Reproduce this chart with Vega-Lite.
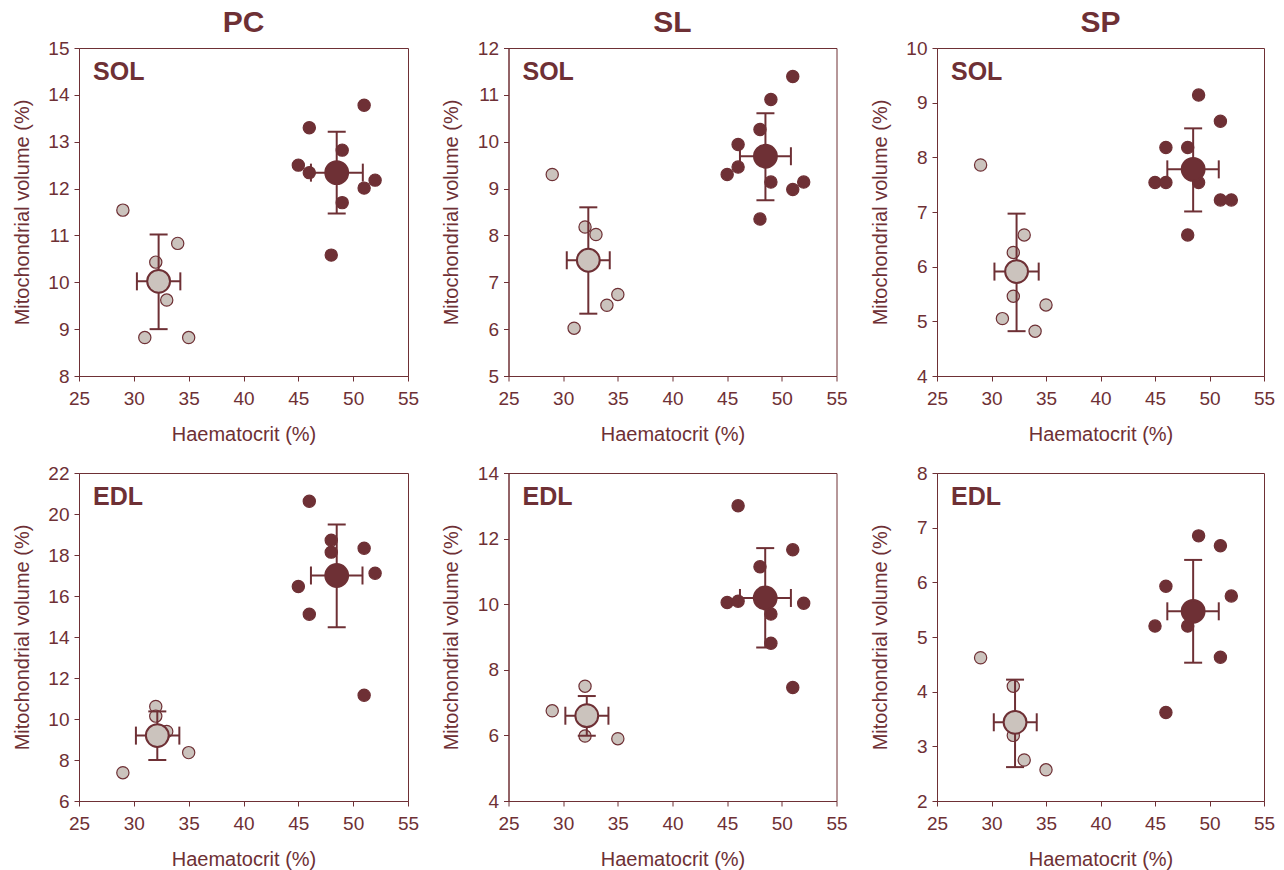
{
"$schema": "https://vega.github.io/schema/vega-lite/v6.json",
"background": "white",
"padding": {"left": 11, "top": 7, "right": 5, "bottom": 5},
"bounds": "flush",
"columns": 3,
"spacing": {"row": 97, "column": 100.5},
"datasets": {
"pts": [
{"p":"PC-SOL","g":"low","hct":29,"mv":11.54},{"p":"PC-SOL","g":"low","hct":34,"mv":10.83},{"p":"PC-SOL","g":"low","hct":32,"mv":10.43},{"p":"PC-SOL","g":"low","hct":33,"mv":9.62},{"p":"PC-SOL","g":"low","hct":31,"mv":8.82},{"p":"PC-SOL","g":"low","hct":35,"mv":8.82},
{"p":"PC-SOL","g":"high","hct":51,"mv":13.78},{"p":"PC-SOL","g":"high","hct":46,"mv":13.3},{"p":"PC-SOL","g":"high","hct":49,"mv":12.82},{"p":"PC-SOL","g":"high","hct":45,"mv":12.5},{"p":"PC-SOL","g":"high","hct":46,"mv":12.34},{"p":"PC-SOL","g":"high","hct":52,"mv":12.18},{"p":"PC-SOL","g":"high","hct":51,"mv":12.01},{"p":"PC-SOL","g":"high","hct":49,"mv":11.7},{"p":"PC-SOL","g":"high","hct":48,"mv":10.58},
{"p":"SL-SOL","g":"low","hct":29,"mv":9.3},{"p":"SL-SOL","g":"low","hct":32,"mv":8.18},{"p":"SL-SOL","g":"low","hct":33,"mv":8.02},{"p":"SL-SOL","g":"low","hct":35,"mv":6.74},{"p":"SL-SOL","g":"low","hct":34,"mv":6.51},{"p":"SL-SOL","g":"low","hct":31,"mv":6.02},
{"p":"SL-SOL","g":"high","hct":51,"mv":11.39},{"p":"SL-SOL","g":"high","hct":49,"mv":10.9},{"p":"SL-SOL","g":"high","hct":48,"mv":10.26},{"p":"SL-SOL","g":"high","hct":46,"mv":9.94},{"p":"SL-SOL","g":"high","hct":46,"mv":9.46},{"p":"SL-SOL","g":"high","hct":45,"mv":9.3},{"p":"SL-SOL","g":"high","hct":49,"mv":9.14},{"p":"SL-SOL","g":"high","hct":52,"mv":9.14},{"p":"SL-SOL","g":"high","hct":51,"mv":8.98},{"p":"SL-SOL","g":"high","hct":48,"mv":8.35},
{"p":"SP-SOL","g":"low","hct":29,"mv":7.86},{"p":"SP-SOL","g":"low","hct":33,"mv":6.58},{"p":"SP-SOL","g":"low","hct":32,"mv":6.26},{"p":"SP-SOL","g":"low","hct":32,"mv":5.46},{"p":"SP-SOL","g":"low","hct":35,"mv":5.3},{"p":"SP-SOL","g":"low","hct":31,"mv":5.05},{"p":"SP-SOL","g":"low","hct":34,"mv":4.82},
{"p":"SP-SOL","g":"high","hct":49,"mv":9.14},{"p":"SP-SOL","g":"high","hct":51,"mv":8.66},{"p":"SP-SOL","g":"high","hct":46,"mv":8.18},{"p":"SP-SOL","g":"high","hct":48,"mv":8.18},{"p":"SP-SOL","g":"high","hct":45,"mv":7.54},{"p":"SP-SOL","g":"high","hct":46,"mv":7.54},{"p":"SP-SOL","g":"high","hct":49,"mv":7.54},{"p":"SP-SOL","g":"high","hct":51,"mv":7.22},{"p":"SP-SOL","g":"high","hct":52,"mv":7.22},{"p":"SP-SOL","g":"high","hct":48,"mv":6.58},
{"p":"PC-EDL","g":"low","hct":29,"mv":7.38},{"p":"PC-EDL","g":"low","hct":35,"mv":8.36},{"p":"PC-EDL","g":"low","hct":32,"mv":10.61},{"p":"PC-EDL","g":"low","hct":32,"mv":10.14},{"p":"PC-EDL","g":"low","hct":33,"mv":9.39},
{"p":"PC-EDL","g":"high","hct":46,"mv":20.62},{"p":"PC-EDL","g":"high","hct":48,"mv":18.72},{"p":"PC-EDL","g":"high","hct":48,"mv":18.14},{"p":"PC-EDL","g":"high","hct":51,"mv":18.33},{"p":"PC-EDL","g":"high","hct":52,"mv":17.11},{"p":"PC-EDL","g":"high","hct":45,"mv":16.46},{"p":"PC-EDL","g":"high","hct":46,"mv":15.11},{"p":"PC-EDL","g":"high","hct":51,"mv":11.16},
{"p":"SL-EDL","g":"low","hct":32,"mv":7.5},{"p":"SL-EDL","g":"low","hct":29,"mv":6.75},{"p":"SL-EDL","g":"low","hct":32,"mv":5.98},{"p":"SL-EDL","g":"low","hct":35,"mv":5.9},
{"p":"SL-EDL","g":"high","hct":46,"mv":13.0},{"p":"SL-EDL","g":"high","hct":51,"mv":11.66},{"p":"SL-EDL","g":"high","hct":48,"mv":11.14},{"p":"SL-EDL","g":"high","hct":45,"mv":10.05},{"p":"SL-EDL","g":"high","hct":46,"mv":10.09},{"p":"SL-EDL","g":"high","hct":52,"mv":10.03},{"p":"SL-EDL","g":"high","hct":49,"mv":9.7},{"p":"SL-EDL","g":"high","hct":49,"mv":8.81},{"p":"SL-EDL","g":"high","hct":51,"mv":7.46},
{"p":"SP-EDL","g":"low","hct":29,"mv":4.62},{"p":"SP-EDL","g":"low","hct":32,"mv":4.1},{"p":"SP-EDL","g":"low","hct":33,"mv":2.75},{"p":"SP-EDL","g":"low","hct":35,"mv":2.57},{"p":"SP-EDL","g":"low","hct":32,"mv":3.2},
{"p":"SP-EDL","g":"high","hct":49,"mv":6.85},{"p":"SP-EDL","g":"high","hct":51,"mv":6.67},{"p":"SP-EDL","g":"high","hct":46,"mv":5.93},{"p":"SP-EDL","g":"high","hct":52,"mv":5.75},{"p":"SP-EDL","g":"high","hct":45,"mv":5.2},{"p":"SP-EDL","g":"high","hct":48,"mv":5.2},{"p":"SP-EDL","g":"high","hct":51,"mv":4.63},{"p":"SP-EDL","g":"high","hct":46,"mv":3.62}
],
"means": [
{"p":"PC-SOL","g":"low","hct":32.26,"mv":10.02,"hlo":30.28,"hhi":34.24,"mlo":9.0,"mhi":11.02},
{"p":"PC-SOL","g":"high","hct":48.5,"mv":12.34,"hlo":46.15,"hhi":50.88,"mlo":11.47,"mhi":13.21},
{"p":"SL-SOL","g":"low","hct":32.3,"mv":7.47,"hlo":30.33,"hhi":34.26,"mlo":6.33,"mhi":8.6},
{"p":"SL-SOL","g":"high","hct":48.5,"mv":9.69,"hlo":46.17,"hhi":50.83,"mlo":8.75,"mhi":10.61},
{"p":"SP-SOL","g":"low","hct":32.3,"mv":5.91,"hlo":30.27,"hhi":34.33,"mlo":4.82,"mhi":6.97},
{"p":"SP-SOL","g":"high","hct":48.5,"mv":7.78,"hlo":46.13,"hhi":50.85,"mlo":7.01,"mhi":8.53},
{"p":"PC-EDL","g":"low","hct":32.14,"mv":9.19,"hlo":30.19,"hhi":34.15,"mlo":8.0,"mhi":10.37},
{"p":"PC-EDL","g":"high","hct":48.5,"mv":17.0,"hlo":46.15,"hhi":50.85,"mlo":14.47,"mhi":19.49},
{"p":"SL-EDL","g":"low","hct":32.16,"mv":6.6,"hlo":30.2,"hhi":34.14,"mlo":5.99,"mhi":7.2},
{"p":"SL-EDL","g":"high","hct":48.48,"mv":10.19,"hlo":46.17,"hhi":50.83,"mlo":8.68,"mhi":11.71},
{"p":"SP-EDL","g":"low","hct":32.16,"mv":3.44,"hlo":30.21,"hhi":34.15,"mlo":2.62,"mhi":4.22},
{"p":"SP-EDL","g":"high","hct":48.5,"mv":5.47,"hlo":46.13,"hhi":50.85,"mlo":4.53,"mhi":6.41}
]
},
"concat": [
{"width":329,"height":328,"title":{"text":"PC"},
"layer":[
{"data":{"name":"pts"},"transform":[{"filter":"datum.p=='PC-SOL'"}],"mark":{"type":"circle","size":150,"opacity":1,"stroke":"#6E3035","strokeWidth":1.2},
"encoding":{"x":{"field":"hct","type":"quantitative","title":"Haematocrit (%)","scale":{"domain":[25,55],"nice":false},"axis":{"values":[25,30,35,40,45,50,55],"format":"d"}},
"y":{"field":"mv","type":"quantitative","title":"Mitochondrial volume (%)","scale":{"domain":[8,15],"nice":false},"axis":{"values":[8,9,10,11,12,13,14,15],"format":"d"}},
"fill":{"field":"g","type":"nominal","scale":{"domain":["low","high"],"range":["#CBC3BD","#6E3035"]},"legend":null}}},
{"data":{"name":"means"},"transform":[{"filter":"datum.p=='PC-SOL'"}],"mark":{"type":"errorbar","ticks":{"opacity":1,"color":"#6E3035"},"rule":{"opacity":1,"color":"#6E3035"},"size":18,"thickness":2,"color":"#6E3035"},
"encoding":{"x":{"field":"hlo","type":"quantitative","title":"Haematocrit (%)","scale":{"domain":[25,55],"nice":false}},"x2":{"field":"hhi","title":"Haematocrit (%)"},"y":{"field":"mv","type":"quantitative","title":"Mitochondrial volume (%)","scale":{"domain":[8,15],"nice":false}}}},
{"data":{"name":"means"},"transform":[{"filter":"datum.p=='PC-SOL'"}],"mark":{"type":"errorbar","ticks":{"opacity":1,"color":"#6E3035"},"rule":{"opacity":1,"color":"#6E3035"},"size":18,"thickness":2,"color":"#6E3035"},
"encoding":{"y":{"field":"mlo","type":"quantitative","title":"Mitochondrial volume (%)","scale":{"domain":[8,15],"nice":false}},"y2":{"field":"mhi","title":"Mitochondrial volume (%)"},"x":{"field":"hct","type":"quantitative","title":"Haematocrit (%)","scale":{"domain":[25,55],"nice":false}}}},
{"data":{"name":"means"},"transform":[{"filter":"datum.p=='PC-SOL'"}],"mark":{"type":"circle","size":520,"opacity":1,"stroke":"#6E3035","strokeWidth":2},
"encoding":{"x":{"field":"hct","type":"quantitative","title":"Haematocrit (%)","scale":{"domain":[25,55],"nice":false}},"y":{"field":"mv","type":"quantitative","title":"Mitochondrial volume (%)","scale":{"domain":[8,15],"nice":false}},"fill":{"field":"g","type":"nominal","legend":null}}},
{"data":{"values":[{"t":"SOL"}]},"mark":{"type":"text","align":"left","baseline":"middle","fontSize":25,"fontWeight":"bold","color":"#6E3035"},
"encoding":{"text":{"field":"t"},"x":{"datum":26.28,"type":"quantitative","scale":{"domain":[25,55],"nice":false}},"y":{"datum":14.49,"type":"quantitative","scale":{"domain":[8,15],"nice":false}}}}
]},
{"width":328,"height":328,"title":{"text":"SL"},
"layer":[
{"data":{"name":"pts"},"transform":[{"filter":"datum.p=='SL-SOL'"}],"mark":{"type":"circle","size":150,"opacity":1,"stroke":"#6E3035","strokeWidth":1.2},
"encoding":{"x":{"field":"hct","type":"quantitative","title":"Haematocrit (%)","scale":{"domain":[25,55],"nice":false},"axis":{"values":[25,30,35,40,45,50,55],"format":"d"}},
"y":{"field":"mv","type":"quantitative","title":"Mitochondrial volume (%)","scale":{"domain":[5,12],"nice":false},"axis":{"values":[5,6,7,8,9,10,11,12],"format":"d"}},
"fill":{"field":"g","type":"nominal","scale":{"domain":["low","high"],"range":["#CBC3BD","#6E3035"]},"legend":null}}},
{"data":{"name":"means"},"transform":[{"filter":"datum.p=='SL-SOL'"}],"mark":{"type":"errorbar","ticks":{"opacity":1,"color":"#6E3035"},"rule":{"opacity":1,"color":"#6E3035"},"size":18,"thickness":2,"color":"#6E3035"},
"encoding":{"x":{"field":"hlo","type":"quantitative","title":"Haematocrit (%)","scale":{"domain":[25,55],"nice":false}},"x2":{"field":"hhi","title":"Haematocrit (%)"},"y":{"field":"mv","type":"quantitative","title":"Mitochondrial volume (%)","scale":{"domain":[5,12],"nice":false}}}},
{"data":{"name":"means"},"transform":[{"filter":"datum.p=='SL-SOL'"}],"mark":{"type":"errorbar","ticks":{"opacity":1,"color":"#6E3035"},"rule":{"opacity":1,"color":"#6E3035"},"size":18,"thickness":2,"color":"#6E3035"},
"encoding":{"y":{"field":"mlo","type":"quantitative","title":"Mitochondrial volume (%)","scale":{"domain":[5,12],"nice":false}},"y2":{"field":"mhi","title":"Mitochondrial volume (%)"},"x":{"field":"hct","type":"quantitative","title":"Haematocrit (%)","scale":{"domain":[25,55],"nice":false}}}},
{"data":{"name":"means"},"transform":[{"filter":"datum.p=='SL-SOL'"}],"mark":{"type":"circle","size":520,"opacity":1,"stroke":"#6E3035","strokeWidth":2},
"encoding":{"x":{"field":"hct","type":"quantitative","title":"Haematocrit (%)","scale":{"domain":[25,55],"nice":false}},"y":{"field":"mv","type":"quantitative","title":"Mitochondrial volume (%)","scale":{"domain":[5,12],"nice":false}},"fill":{"field":"g","type":"nominal","legend":null}}},
{"data":{"values":[{"t":"SOL"}]},"mark":{"type":"text","align":"left","baseline":"middle","fontSize":25,"fontWeight":"bold","color":"#6E3035"},
"encoding":{"text":{"field":"t"},"x":{"datum":26.28,"type":"quantitative","scale":{"domain":[25,55],"nice":false}},"y":{"datum":11.49,"type":"quantitative","scale":{"domain":[5,12],"nice":false}}}}
]},
{"width":327,"height":328,"title":{"text":"SP"},
"layer":[
{"data":{"name":"pts"},"transform":[{"filter":"datum.p=='SP-SOL'"}],"mark":{"type":"circle","size":150,"opacity":1,"stroke":"#6E3035","strokeWidth":1.2},
"encoding":{"x":{"field":"hct","type":"quantitative","title":"Haematocrit (%)","scale":{"domain":[25,55],"nice":false},"axis":{"values":[25,30,35,40,45,50,55],"format":"d"}},
"y":{"field":"mv","type":"quantitative","title":"Mitochondrial volume (%)","scale":{"domain":[4,10],"nice":false},"axis":{"values":[4,5,6,7,8,9,10],"format":"d"}},
"fill":{"field":"g","type":"nominal","scale":{"domain":["low","high"],"range":["#CBC3BD","#6E3035"]},"legend":null}}},
{"data":{"name":"means"},"transform":[{"filter":"datum.p=='SP-SOL'"}],"mark":{"type":"errorbar","ticks":{"opacity":1,"color":"#6E3035"},"rule":{"opacity":1,"color":"#6E3035"},"size":18,"thickness":2,"color":"#6E3035"},
"encoding":{"x":{"field":"hlo","type":"quantitative","title":"Haematocrit (%)","scale":{"domain":[25,55],"nice":false}},"x2":{"field":"hhi","title":"Haematocrit (%)"},"y":{"field":"mv","type":"quantitative","title":"Mitochondrial volume (%)","scale":{"domain":[4,10],"nice":false}}}},
{"data":{"name":"means"},"transform":[{"filter":"datum.p=='SP-SOL'"}],"mark":{"type":"errorbar","ticks":{"opacity":1,"color":"#6E3035"},"rule":{"opacity":1,"color":"#6E3035"},"size":18,"thickness":2,"color":"#6E3035"},
"encoding":{"y":{"field":"mlo","type":"quantitative","title":"Mitochondrial volume (%)","scale":{"domain":[4,10],"nice":false}},"y2":{"field":"mhi","title":"Mitochondrial volume (%)"},"x":{"field":"hct","type":"quantitative","title":"Haematocrit (%)","scale":{"domain":[25,55],"nice":false}}}},
{"data":{"name":"means"},"transform":[{"filter":"datum.p=='SP-SOL'"}],"mark":{"type":"circle","size":520,"opacity":1,"stroke":"#6E3035","strokeWidth":2},
"encoding":{"x":{"field":"hct","type":"quantitative","title":"Haematocrit (%)","scale":{"domain":[25,55],"nice":false}},"y":{"field":"mv","type":"quantitative","title":"Mitochondrial volume (%)","scale":{"domain":[4,10],"nice":false}},"fill":{"field":"g","type":"nominal","legend":null}}},
{"data":{"values":[{"t":"SOL"}]},"mark":{"type":"text","align":"left","baseline":"middle","fontSize":25,"fontWeight":"bold","color":"#6E3035"},
"encoding":{"text":{"field":"t"},"x":{"datum":26.28,"type":"quantitative","scale":{"domain":[25,55],"nice":false}},"y":{"datum":9.56,"type":"quantitative","scale":{"domain":[4,10],"nice":false}}}}
]},
{"width":329,"height":328,
"layer":[
{"data":{"name":"pts"},"transform":[{"filter":"datum.p=='PC-EDL'"}],"mark":{"type":"circle","size":150,"opacity":1,"stroke":"#6E3035","strokeWidth":1.2},
"encoding":{"x":{"field":"hct","type":"quantitative","title":"Haematocrit (%)","scale":{"domain":[25,55],"nice":false},"axis":{"values":[25,30,35,40,45,50,55],"format":"d"}},
"y":{"field":"mv","type":"quantitative","title":"Mitochondrial volume (%)","scale":{"domain":[6,22],"nice":false},"axis":{"values":[6,8,10,12,14,16,18,20,22],"format":"d"}},
"fill":{"field":"g","type":"nominal","scale":{"domain":["low","high"],"range":["#CBC3BD","#6E3035"]},"legend":null}}},
{"data":{"name":"means"},"transform":[{"filter":"datum.p=='PC-EDL'"}],"mark":{"type":"errorbar","ticks":{"opacity":1,"color":"#6E3035"},"rule":{"opacity":1,"color":"#6E3035"},"size":18,"thickness":2,"color":"#6E3035"},
"encoding":{"x":{"field":"hlo","type":"quantitative","title":"Haematocrit (%)","scale":{"domain":[25,55],"nice":false}},"x2":{"field":"hhi","title":"Haematocrit (%)"},"y":{"field":"mv","type":"quantitative","title":"Mitochondrial volume (%)","scale":{"domain":[6,22],"nice":false}}}},
{"data":{"name":"means"},"transform":[{"filter":"datum.p=='PC-EDL'"}],"mark":{"type":"errorbar","ticks":{"opacity":1,"color":"#6E3035"},"rule":{"opacity":1,"color":"#6E3035"},"size":18,"thickness":2,"color":"#6E3035"},
"encoding":{"y":{"field":"mlo","type":"quantitative","title":"Mitochondrial volume (%)","scale":{"domain":[6,22],"nice":false}},"y2":{"field":"mhi","title":"Mitochondrial volume (%)"},"x":{"field":"hct","type":"quantitative","title":"Haematocrit (%)","scale":{"domain":[25,55],"nice":false}}}},
{"data":{"name":"means"},"transform":[{"filter":"datum.p=='PC-EDL'"}],"mark":{"type":"circle","size":520,"opacity":1,"stroke":"#6E3035","strokeWidth":2},
"encoding":{"x":{"field":"hct","type":"quantitative","title":"Haematocrit (%)","scale":{"domain":[25,55],"nice":false}},"y":{"field":"mv","type":"quantitative","title":"Mitochondrial volume (%)","scale":{"domain":[6,22],"nice":false}},"fill":{"field":"g","type":"nominal","legend":null}}},
{"data":{"values":[{"t":"EDL"}]},"mark":{"type":"text","align":"left","baseline":"middle","fontSize":25,"fontWeight":"bold","color":"#6E3035"},
"encoding":{"text":{"field":"t"},"x":{"datum":26.28,"type":"quantitative","scale":{"domain":[25,55],"nice":false}},"y":{"datum":20.83,"type":"quantitative","scale":{"domain":[6,22],"nice":false}}}}
]},
{"width":328,"height":328,
"layer":[
{"data":{"name":"pts"},"transform":[{"filter":"datum.p=='SL-EDL'"}],"mark":{"type":"circle","size":150,"opacity":1,"stroke":"#6E3035","strokeWidth":1.2},
"encoding":{"x":{"field":"hct","type":"quantitative","title":"Haematocrit (%)","scale":{"domain":[25,55],"nice":false},"axis":{"values":[25,30,35,40,45,50,55],"format":"d"}},
"y":{"field":"mv","type":"quantitative","title":"Mitochondrial volume (%)","scale":{"domain":[4,14],"nice":false},"axis":{"values":[4,6,8,10,12,14],"format":"d"}},
"fill":{"field":"g","type":"nominal","scale":{"domain":["low","high"],"range":["#CBC3BD","#6E3035"]},"legend":null}}},
{"data":{"name":"means"},"transform":[{"filter":"datum.p=='SL-EDL'"}],"mark":{"type":"errorbar","ticks":{"opacity":1,"color":"#6E3035"},"rule":{"opacity":1,"color":"#6E3035"},"size":18,"thickness":2,"color":"#6E3035"},
"encoding":{"x":{"field":"hlo","type":"quantitative","title":"Haematocrit (%)","scale":{"domain":[25,55],"nice":false}},"x2":{"field":"hhi","title":"Haematocrit (%)"},"y":{"field":"mv","type":"quantitative","title":"Mitochondrial volume (%)","scale":{"domain":[4,14],"nice":false}}}},
{"data":{"name":"means"},"transform":[{"filter":"datum.p=='SL-EDL'"}],"mark":{"type":"errorbar","ticks":{"opacity":1,"color":"#6E3035"},"rule":{"opacity":1,"color":"#6E3035"},"size":18,"thickness":2,"color":"#6E3035"},
"encoding":{"y":{"field":"mlo","type":"quantitative","title":"Mitochondrial volume (%)","scale":{"domain":[4,14],"nice":false}},"y2":{"field":"mhi","title":"Mitochondrial volume (%)"},"x":{"field":"hct","type":"quantitative","title":"Haematocrit (%)","scale":{"domain":[25,55],"nice":false}}}},
{"data":{"name":"means"},"transform":[{"filter":"datum.p=='SL-EDL'"}],"mark":{"type":"circle","size":520,"opacity":1,"stroke":"#6E3035","strokeWidth":2},
"encoding":{"x":{"field":"hct","type":"quantitative","title":"Haematocrit (%)","scale":{"domain":[25,55],"nice":false}},"y":{"field":"mv","type":"quantitative","title":"Mitochondrial volume (%)","scale":{"domain":[4,14],"nice":false}},"fill":{"field":"g","type":"nominal","legend":null}}},
{"data":{"values":[{"t":"EDL"}]},"mark":{"type":"text","align":"left","baseline":"middle","fontSize":25,"fontWeight":"bold","color":"#6E3035"},
"encoding":{"text":{"field":"t"},"x":{"datum":26.28,"type":"quantitative","scale":{"domain":[25,55],"nice":false}},"y":{"datum":13.27,"type":"quantitative","scale":{"domain":[4,14],"nice":false}}}}
]},
{"width":327,"height":328,
"layer":[
{"data":{"name":"pts"},"transform":[{"filter":"datum.p=='SP-EDL'"}],"mark":{"type":"circle","size":150,"opacity":1,"stroke":"#6E3035","strokeWidth":1.2},
"encoding":{"x":{"field":"hct","type":"quantitative","title":"Haematocrit (%)","scale":{"domain":[25,55],"nice":false},"axis":{"values":[25,30,35,40,45,50,55],"format":"d"}},
"y":{"field":"mv","type":"quantitative","title":"Mitochondrial volume (%)","scale":{"domain":[2,8],"nice":false},"axis":{"values":[2,3,4,5,6,7,8],"format":"d"}},
"fill":{"field":"g","type":"nominal","scale":{"domain":["low","high"],"range":["#CBC3BD","#6E3035"]},"legend":null}}},
{"data":{"name":"means"},"transform":[{"filter":"datum.p=='SP-EDL'"}],"mark":{"type":"errorbar","ticks":{"opacity":1,"color":"#6E3035"},"rule":{"opacity":1,"color":"#6E3035"},"size":18,"thickness":2,"color":"#6E3035"},
"encoding":{"x":{"field":"hlo","type":"quantitative","title":"Haematocrit (%)","scale":{"domain":[25,55],"nice":false}},"x2":{"field":"hhi","title":"Haematocrit (%)"},"y":{"field":"mv","type":"quantitative","title":"Mitochondrial volume (%)","scale":{"domain":[2,8],"nice":false}}}},
{"data":{"name":"means"},"transform":[{"filter":"datum.p=='SP-EDL'"}],"mark":{"type":"errorbar","ticks":{"opacity":1,"color":"#6E3035"},"rule":{"opacity":1,"color":"#6E3035"},"size":18,"thickness":2,"color":"#6E3035"},
"encoding":{"y":{"field":"mlo","type":"quantitative","title":"Mitochondrial volume (%)","scale":{"domain":[2,8],"nice":false}},"y2":{"field":"mhi","title":"Mitochondrial volume (%)"},"x":{"field":"hct","type":"quantitative","title":"Haematocrit (%)","scale":{"domain":[25,55],"nice":false}}}},
{"data":{"name":"means"},"transform":[{"filter":"datum.p=='SP-EDL'"}],"mark":{"type":"circle","size":520,"opacity":1,"stroke":"#6E3035","strokeWidth":2},
"encoding":{"x":{"field":"hct","type":"quantitative","title":"Haematocrit (%)","scale":{"domain":[25,55],"nice":false}},"y":{"field":"mv","type":"quantitative","title":"Mitochondrial volume (%)","scale":{"domain":[2,8],"nice":false}},"fill":{"field":"g","type":"nominal","legend":null}}},
{"data":{"values":[{"t":"EDL"}]},"mark":{"type":"text","align":"left","baseline":"middle","fontSize":25,"fontWeight":"bold","color":"#6E3035"},
"encoding":{"text":{"field":"t"},"x":{"datum":26.28,"type":"quantitative","scale":{"domain":[25,55],"nice":false}},"y":{"datum":7.56,"type":"quantitative","scale":{"domain":[2,8],"nice":false}}}}
]}
],
"config": {
"font": "Liberation Sans",
"view": {"stroke": "#6E3035", "strokeWidth": 1},
"title": {"fontSize": 30, "fontWeight": "bold", "color": "#6E3035", "font": "Liberation Sans", "offset": 1},
"axis": {"grid": false, "domainColor": "#6E3035", "tickColor": "#6E3035", "labelColor": "#6E3035", "titleColor": "#6E3035", "labelFont": "Liberation Sans", "titleFont": "Liberation Sans", "labelFontSize": 19, "titleFontSize": 20, "titleFontWeight": "normal", "tickSize": 5, "labelPadding": 5, "labelFlush": false, "labelOverlap": false},
"axisX": {"titlePadding": 16, "labelPadding": 8},
"axisY": {"titleX": -57, "titleY": 164, "titleBaseline": "middle", "titleAlign": "center"}
}
}
